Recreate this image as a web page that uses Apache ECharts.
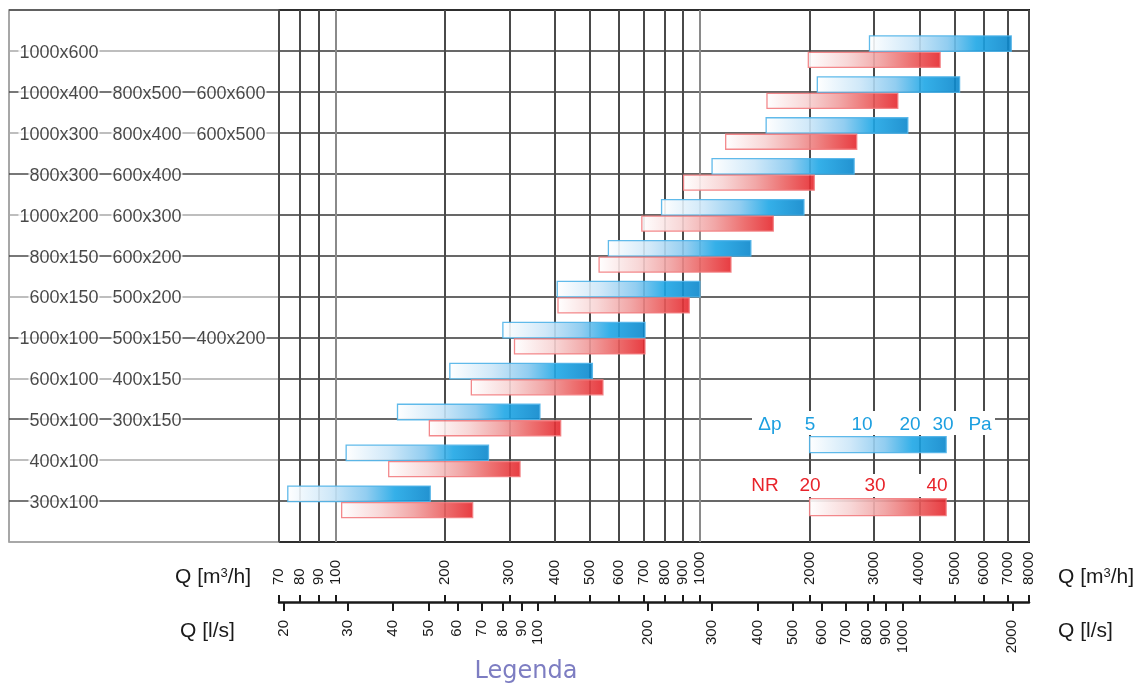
<!DOCTYPE html>
<html>
<head>
<meta charset="utf-8">
<script src="https://cdn.jsdelivr.net/npm/echarts@6/dist/echarts.min.js"></script>
<style>
  html, body { margin: 0; padding: 0; background: #ffffff; }
  #chart { width: 1133px; height: 687px; }
</style>
</head>
<body>
<div id="chart"></div>
<script>
// Duct sizes per row (bottom row first); each row can list up to three sizes
const rowLabels = [
  ['300x100'],
  ['400x100'],
  ['500x100', '300x150'],
  ['600x100', '400x150'],
  ['1000x100', '500x150', '400x200'],
  ['600x150', '500x200'],
  ['800x150', '600x200'],
  ['1000x200', '600x300'],
  ['800x300', '600x400'],
  ['1000x300', '800x400', '600x500'],
  ['1000x400', '800x500', '600x600'],
  ['1000x600']
];

// Air flow range Q [m3/h] for pressure drop 5..30 Pa
const dpStart = [74, 107, 148, 206, 288, 406, 561, 785, 1080, 1520, 2100, 2920];
const dpEnd   = [182, 263, 364, 507, 707, 1000, 1380, 1930, 2650, 3720, 5160, 7150];

// Air flow range Q [m3/h] for noise rating NR 20..40
const nrStart = [104, 140, 181, 236, 310, 408, 529, 693, 902, 1177, 1528, 1984];
const nrEnd   = [238, 321, 415, 542, 707, 935, 1217, 1590, 2060, 2694, 3492, 4563];

// Key bars: Q span and row position
const keySpan = [2000, 4740];
const keyDpRow = 2.38;
const keyNrRow = 0.85;
const keyDpTicks = ['5', '10', '20', '30'];
const keyNrTicks = ['20', '30', '40'];

// Axis ticks
const qM3h = [70, 80, 90, 100, 200, 300, 400, 500, 600, 700, 800, 900, 1000, 2000, 3000, 4000, 5000, 6000, 7000, 8000];
const qLs  = [20, 30, 40, 50, 60, 70, 80, 90, 100, 200, 300, 400, 500, 600, 700, 800, 900, 1000, 2000];

const FONT = '"Liberation Sans", Arial, Helvetica, sans-serif';
const BLUE_TEXT = '#1c9fe0';
const RED_TEXT = '#e8232a';

const blueFill = () => new echarts.graphic.LinearGradient(0, 0, 1, 0, [
  { offset: 0, color: '#ffffff' },
  { offset: 0.3, color: '#cbe6f8' },
  { offset: 0.55, color: '#86c8ef' },
  { offset: 0.75, color: '#1ea7e6' },
  { offset: 1, color: '#0a86cb' }
]);
const redFill = () => new echarts.graphic.LinearGradient(0, 0, 1, 0, [
  { offset: 0, color: '#ffffff' },
  { offset: 0.3, color: '#f7d3d3' },
  { offset: 0.55, color: '#f09e9e' },
  { offset: 0.78, color: '#eb6060' },
  { offset: 1, color: '#e5262c' }
]);

function rangeBars(fillFn, stroke, dy, h) {
  return function (params, api) {
    const a = api.coord([api.value(0), api.value(2)]);
    const b = api.coord([api.value(1), api.value(2)]);
    return {
      type: 'rect',
      shape: { x: a[0], y: a[1] + dy, width: b[0] - a[0], height: h },
      style: { fill: fillFn(), stroke: stroke, lineWidth: 1.3, opacity: 0.9 }
    };
  };
}

// decade lines are drawn lighter than the intermediate ones
const splitColors = qM3h.map(v => (Math.log10(v) % 1 === 0 ? '#8a8a8a' : '#4a4a4a'));

const labelCols = [91, 174, 258];
const labelData = [];
rowLabels.forEach((names, i) => {
  names.forEach((n, c) => labelData.push({ value: [labelCols[c], i + 1], name: n }));
});

const chart = echarts.init(document.getElementById('chart'), null, { renderer: 'canvas' });

const option = {
  animation: false,
  backgroundColor: '#ffffff',
  textStyle: { fontFamily: FONT },
  grid: [
    { left: 279, top: 10, width: 750, height: 532, show: true, borderColor: '#1a1a1a', borderWidth: 2, backgroundColor: 'transparent' },
    { left: 279, top: 601, width: 750, height: 1 },
    { left: 9, top: 10, width: 270, height: 532, show: true, borderColor: '#8a8a8a', borderWidth: 1.5 }
  ],
  xAxis: [
    {
      gridIndex: 0, type: 'log', logBase: 10, min: 70, max: 8000,
      axisLine: { show: false }, axisTick: { show: false, customValues: qM3h },
      axisLabel: { show: false, customValues: qM3h },
      splitLine: { show: true, lineStyle: { color: splitColors, width: 2 } }
    },
    {
      gridIndex: 1, type: 'log', logBase: 10, position: 'top', min: 70, max: 8000,
      axisLine: { show: true, lineStyle: { color: '#1a1a1a', width: 2.5 } },
      axisTick: { show: true, length: 7, customValues: qM3h, lineStyle: { color: '#1a1a1a', width: 2 } },
      axisLabel: { customValues: qM3h, rotate: 90, margin: 16, fontSize: 15, color: '#1a1a1a', fontFamily: FONT, formatter: v => String(Math.round(v)) },
      splitLine: { show: false }
    },
    {
      gridIndex: 1, type: 'log', logBase: 10, position: 'bottom', min: 70 / 3.6, max: 8000 / 3.6,
      axisLine: { show: false },
      axisTick: { show: true, length: 9, customValues: qLs, lineStyle: { color: '#1a1a1a', width: 2 } },
      axisLabel: { customValues: qLs, rotate: 90, margin: 18, fontSize: 15, color: '#1a1a1a', fontFamily: FONT, formatter: v => String(Math.round(v)) },
      splitLine: { show: false }
    },
    { gridIndex: 2, type: 'value', min: 0, max: 270, show: false }
  ],
  yAxis: [
    {
      gridIndex: 0, type: 'value', min: 0, max: 13, interval: 1,
      axisLine: { show: false }, axisTick: { show: false }, axisLabel: { show: false },
      splitLine: { show: true, lineStyle: { color: '#363636', width: 1.6 } }
    },
    { gridIndex: 1, type: 'value', min: 0, max: 1, show: false },
    {
      gridIndex: 2, type: 'value', min: 0, max: 13, interval: 1,
      axisLine: { show: false }, axisTick: { show: false }, axisLabel: { show: false },
      splitLine: { show: true, lineStyle: { color: ['#a8a8a8', '#4a4a4a'], width: 1.5 } }
    }
  ],
  series: [
    {
      name: 'Δp', type: 'custom', xAxisIndex: 0, yAxisIndex: 0, z: 3,
      renderItem: rangeBars(blueFill, '#4fb2e8', -15, 15.5),
      encode: { x: [0, 1], y: 2 },
      data: dpStart.map((s, i) => [s, dpEnd[i], i + 1])
    },
    {
      name: 'NR', type: 'custom', xAxisIndex: 0, yAxisIndex: 0, z: 4,
      renderItem: rangeBars(redFill, '#f27c80', 1.5, 15),
      encode: { x: [0, 1], y: 2 },
      data: nrStart.map((s, i) => [s, nrEnd[i], i + 1])
    },
    {
      name: 'key Δp', type: 'custom', xAxisIndex: 0, yAxisIndex: 0, z: 4,
      renderItem: rangeBars(blueFill, '#4fb2e8', -8, 16),
      encode: { x: [0, 1], y: 2 },
      data: [[keySpan[0], keySpan[1], keyDpRow]]
    },
    {
      name: 'key NR', type: 'custom', xAxisIndex: 0, yAxisIndex: 0, z: 4,
      renderItem: rangeBars(redFill, '#f27c80', -8.5, 17),
      encode: { x: [0, 1], y: 2 },
      data: [[keySpan[0], keySpan[1], keyNrRow]]
    },
    {
      name: 'sizes', type: 'scatter', xAxisIndex: 3, yAxisIndex: 2, z: 5,
      symbolSize: 1, itemStyle: { color: 'rgba(0,0,0,0)' },
      silent: true,
      label: {
        show: true, position: 'left', distance: 0, offset: [0, 2],
        formatter: p => p.name, fontSize: 18, color: '#1a1a1a', fontFamily: FONT,
        backgroundColor: '#ffffff', padding: [1, 1, 1, 1]
      },
      data: labelData
    }
  ],
  graphic: [
    // clear the grid behind the key captions
    { type: 'rect', z: 50, shape: { x: 752, y: 411, width: 243, height: 24 }, style: { fill: '#ffffff' } },
    { type: 'rect', z: 50, shape: { x: 745, y: 474, width: 207, height: 23 }, style: { fill: '#ffffff' } },
    { type: 'text', z: 51, x: 770, y: 425, style: { text: 'Δp', fill: BLUE_TEXT, font: '19px ' + FONT, textAlign: 'center', textVerticalAlign: 'middle', verticalAlign: 'middle' } },
    ...keyDpTicks.map((t, i) => ({ type: 'text', z: 51, x: [810, 862, 910, 943][i], y: 425, style: { text: t, fill: BLUE_TEXT, font: '19px ' + FONT, textAlign: 'center', textVerticalAlign: 'middle', verticalAlign: 'middle' } })),
    { type: 'text', z: 51, x: 980, y: 425, style: { text: 'Pa', fill: BLUE_TEXT, font: '19px ' + FONT, textAlign: 'center', textVerticalAlign: 'middle', verticalAlign: 'middle' } },
    { type: 'text', z: 51, x: 765, y: 486, style: { text: 'NR', fill: RED_TEXT, font: '19px ' + FONT, textAlign: 'center', textVerticalAlign: 'middle', verticalAlign: 'middle' } },
    ...keyNrTicks.map((t, i) => ({ type: 'text', z: 51, x: [810, 875, 937][i], y: 486, style: { text: t, fill: RED_TEXT, font: '19px ' + FONT, textAlign: 'center', textVerticalAlign: 'middle', verticalAlign: 'middle' } })),
    // axis names
    { type: 'text', z: 51, x: 175, y: 577, style: { text: 'Q [m{s|3}/h]', fill: '#1a1a1a', font: '21px ' + FONT, textVerticalAlign: 'middle', verticalAlign: 'middle', rich: { s: { fontSize: 13, verticalAlign: 'top', fill: '#1a1a1a', fontFamily: FONT } } } },
    { type: 'text', z: 51, x: 1058, y: 577, style: { text: 'Q [m{s|3}/h]', fill: '#1a1a1a', font: '21px ' + FONT, textVerticalAlign: 'middle', verticalAlign: 'middle', rich: { s: { fontSize: 13, verticalAlign: 'top', fill: '#1a1a1a', fontFamily: FONT } } } },
    { type: 'text', z: 51, x: 180, y: 631, style: { text: 'Q [l/s]', fill: '#1a1a1a', font: '21px ' + FONT, textVerticalAlign: 'middle', verticalAlign: 'middle' } },
    { type: 'text', z: 51, x: 1058, y: 631, style: { text: 'Q [l/s]', fill: '#1a1a1a', font: '21px ' + FONT, textVerticalAlign: 'middle', verticalAlign: 'middle' } },
    { type: 'text', z: 51, x: 526, y: 672, style: { text: 'Legenda', fill: '#7d7dc2', font: '24px "DejaVu Sans", sans-serif', textAlign: 'center', textVerticalAlign: 'middle', verticalAlign: 'middle' } }
  ]
};

chart.setOption(option);
</script>
</body>
</html>
